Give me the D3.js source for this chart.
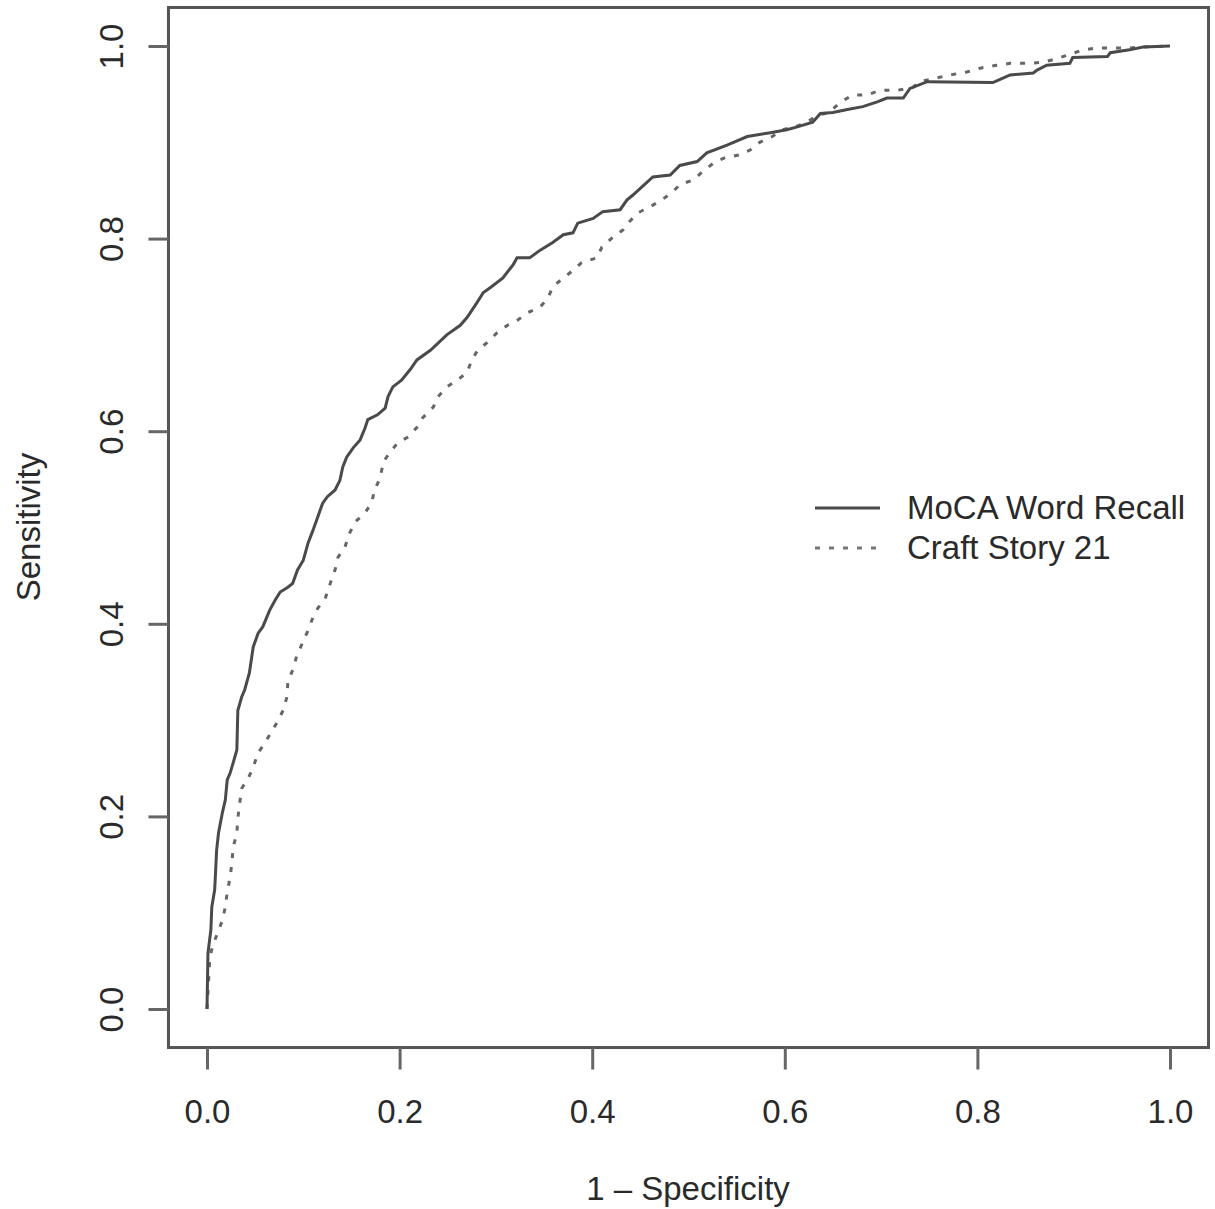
<!DOCTYPE html>
<html>
<head>
<meta charset="utf-8">
<script src="https://cdn.jsdelivr.net/npm/d3@7"></script>
<style>
  body { margin: 0; background: #fff; }
  text { font-family: "Liberation Sans", Arial, sans-serif; }
</style>
</head>
<body>
<script>
// ROC data (1 - specificity, sensitivity)
var mocaFpr = [0, 0.001, 0.004, 0.005, 0.008, 0.010, 0.012, 0.016, 0.019, 0.021, 0.024, 0.027, 0.031, 0.032, 0.036, 0.039,
    0.044, 0.048, 0.053, 0.058, 0.065, 0.071, 0.076, 0.084, 0.089, 0.094, 0.100, 0.105, 0.110, 0.115, 0.120, 0.125,
    0.133, 0.138, 0.141, 0.145, 0.152, 0.159, 0.164, 0.167, 0.177, 0.185, 0.188, 0.193, 0.202, 0.211, 0.218, 0.232,
    0.249, 0.263, 0.270, 0.280, 0.287, 0.294, 0.307, 0.318, 0.322, 0.335, 0.346, 0.359, 0.370, 0.380, 0.385, 0.401,
    0.411, 0.429, 0.436, 0.442, 0.463, 0.481, 0.491, 0.509, 0.519, 0.540, 0.561, 0.585, 0.602, 0.613, 0.629, 0.637,
    0.650, 0.665, 0.681, 0.696, 0.706, 0.723, 0.730, 0.748, 0.816, 0.823, 0.834, 0.858, 0.862, 0.872, 0.896, 0.899,
    0.935, 0.938, 0.958, 0.972, 1.0];
var mocaSens = [0, 0.058, 0.082, 0.106, 0.124, 0.165, 0.183, 0.204, 0.217, 0.238, 0.245, 0.255, 0.269, 0.310, 0.324, 0.331,
    0.349, 0.376, 0.390, 0.397, 0.414, 0.425, 0.433, 0.438, 0.442, 0.456, 0.466, 0.484, 0.497, 0.511, 0.525, 0.532,
    0.539, 0.549, 0.563, 0.573, 0.583, 0.591, 0.603, 0.612, 0.617, 0.624, 0.636, 0.646, 0.653, 0.664, 0.674, 0.684,
    0.700, 0.710, 0.718, 0.733, 0.744, 0.749, 0.759, 0.773, 0.780, 0.780, 0.788, 0.796, 0.804, 0.806, 0.816, 0.821,
    0.828, 0.830, 0.840, 0.845, 0.864, 0.866, 0.876, 0.880, 0.889, 0.897, 0.906, 0.910, 0.913, 0.916, 0.921, 0.930,
    0.931, 0.934, 0.937, 0.942, 0.946, 0.946, 0.956, 0.963, 0.962, 0.965, 0.970, 0.972, 0.975, 0.980, 0.982, 0.988,
    0.989, 0.993, 0.996, 0.999, 1.0];

var craftFpr = [0, 0.003, 0.006, 0.011, 0.016, 0.019, 0.021, 0.024, 0.026, 0.027, 0.031, 0.032, 0.034, 0.036, 0.043, 0.048,
    0.053, 0.060, 0.067, 0.073, 0.079, 0.083, 0.084, 0.089, 0.093, 0.099, 0.104, 0.109, 0.115, 0.123, 0.128, 0.133,
    0.136, 0.143, 0.148, 0.154, 0.164, 0.171, 0.174, 0.180, 0.183, 0.190, 0.198, 0.209, 0.218, 0.224, 0.235, 0.240,
    0.249, 0.260, 0.270, 0.275, 0.281, 0.292, 0.301, 0.312, 0.322, 0.333, 0.346, 0.354, 0.359, 0.370, 0.380, 0.389,
    0.405, 0.410, 0.421, 0.432, 0.437, 0.448, 0.460, 0.472, 0.483, 0.491, 0.505, 0.514, 0.528, 0.538, 0.553, 0.564,
    0.574, 0.587, 0.597, 0.611, 0.623, 0.634, 0.646, 0.657, 0.670, 0.685, 0.699, 0.717, 0.733, 0.740, 0.772, 0.789,
    0.803, 0.820, 0.834, 0.852, 0.868, 0.883, 0.910, 0.924, 0.958, 0.972, 1.0];
var craftSens = [0, 0.054, 0.066, 0.079, 0.092, 0.106, 0.121, 0.137, 0.153, 0.167, 0.183, 0.198, 0.214, 0.229, 0.240, 0.251,
    0.266, 0.276, 0.288, 0.298, 0.310, 0.324, 0.340, 0.352, 0.366, 0.380, 0.391, 0.404, 0.416, 0.427, 0.442, 0.456,
    0.469, 0.479, 0.494, 0.506, 0.515, 0.526, 0.539, 0.552, 0.568, 0.578, 0.588, 0.594, 0.604, 0.614, 0.625, 0.636,
    0.646, 0.653, 0.661, 0.674, 0.684, 0.693, 0.702, 0.710, 0.715, 0.723, 0.729, 0.738, 0.750, 0.759, 0.767, 0.775,
    0.780, 0.791, 0.801, 0.809, 0.816, 0.827, 0.833, 0.840, 0.848, 0.856, 0.861, 0.869, 0.880, 0.884, 0.887, 0.892,
    0.900, 0.906, 0.913, 0.916, 0.921, 0.928, 0.931, 0.941, 0.949, 0.949, 0.954, 0.954, 0.957, 0.963, 0.970, 0.973,
    0.977, 0.980, 0.982, 0.982, 0.983, 0.987, 0.996, 0.998, 0.998, 0.999, 1.0];

var seriesNames = ["MoCA Word Recall", "Craft Story 21"];
var xTicks = [0, 0.2, 0.4, 0.6, 0.8, 1.0];
var yTicks = [0, 0.2, 0.4, 0.6, 0.8, 1.0];

var width = 1215, height = 1209;
var ink = "#4a4a4a";

var svg = d3.select("body")
    .append("svg")
    .attr("width", width)
    .attr("height", height);

svg.append("rect")
    .attr("width", width)
    .attr("height", height)
    .attr("fill", "#fff");

var x = d3.scaleLinear().domain([0, 1]).range([207, 1170]);
var y = d3.scaleLinear().domain([0, 1]).range([1009, 46]);

// plot box, R style 4% padding
svg.append("rect")
    .attr("x", x(-0.04))
    .attr("y", y(1.04))
    .attr("width", x(1.04) - x(-0.04))
    .attr("height", y(-0.04) - y(1.04))
    .attr("fill", "none")
    .attr("stroke", "#555")
    .attr("stroke-width", 3);

// x axis
var xAxis = svg.append("g")
    .attr("transform", "translate(0," + y(-0.04) + ")")
    .call(d3.axisBottom(x).tickValues(xTicks).tickSize(22).tickPadding(30).tickFormat(d3.format(".1f")));
xAxis.select(".domain").remove();
xAxis.selectAll("line").attr("stroke", "#666").attr("stroke-width", 3);
xAxis.selectAll("text")
    .attr("fill", "#2a2a2a")
    .attr("font-size", 33)
    .attr("font-family", "Liberation Sans, Arial, sans-serif");

// y axis, labels parallel to the axis
var yAxis = svg.append("g")
    .attr("transform", "translate(" + x(-0.04) + ",0)")
    .call(d3.axisLeft(y).tickValues(yTicks).tickSize(20).tickFormat(d3.format(".1f")));
yAxis.select(".domain").remove();
yAxis.selectAll("line").attr("stroke", "#666").attr("stroke-width", 3);
yAxis.selectAll("text")
    .attr("fill", "#2a2a2a")
    .attr("font-size", 33)
    .attr("font-family", "Liberation Sans, Arial, sans-serif")
    .attr("x", null)
    .attr("dy", null)
    .attr("text-anchor", "middle")
    .attr("transform", "translate(-45,0) rotate(-90)");

svg.append("text")
    .attr("x", 688)
    .attr("y", 1200)
    .attr("text-anchor", "middle")
    .attr("font-size", 33)
    .attr("fill", "#2a2a2a")
    .text("1 \u2013 Specificity");

svg.append("text")
    .attr("transform", "translate(40,527) rotate(-90)")
    .attr("text-anchor", "middle")
    .attr("font-size", 33)
    .attr("fill", "#2a2a2a")
    .text("Sensitivity");

var line = d3.line()
    .x(function(d) { return x(d[0]); })
    .y(function(d) { return y(d[1]); });

var moca = d3.zip(mocaFpr, mocaSens);
var craft = d3.zip(craftFpr, craftSens);

svg.append("path")
    .datum(craft)
    .attr("d", line)
    .attr("fill", "none")
    .attr("stroke", "#666")
    .attr("stroke-width", 3)
    .attr("stroke-dasharray", "5,9");

svg.append("path")
    .datum(moca)
    .attr("d", line)
    .attr("fill", "none")
    .attr("stroke", ink)
    .attr("stroke-width", 3);

// legend
var legend = svg.append("g").attr("transform", "translate(815,508)");
seriesNames.forEach(function(name, i) {
    legend.append("line")
        .attr("x1", 0).attr("x2", 65)
        .attr("y1", i * 40).attr("y2", i * 40)
        .attr("stroke", i === 0 ? ink : "#777")
        .attr("stroke-width", 3)
        .attr("stroke-dasharray", i === 0 ? null : "5,9");
    legend.append("text")
        .attr("x", 92)
        .attr("y", i * 40 + 11)
        .attr("font-size", 33)
        .attr("fill", "#2a2a2a")
        .text(name);
});
</script>
</body>
</html>
